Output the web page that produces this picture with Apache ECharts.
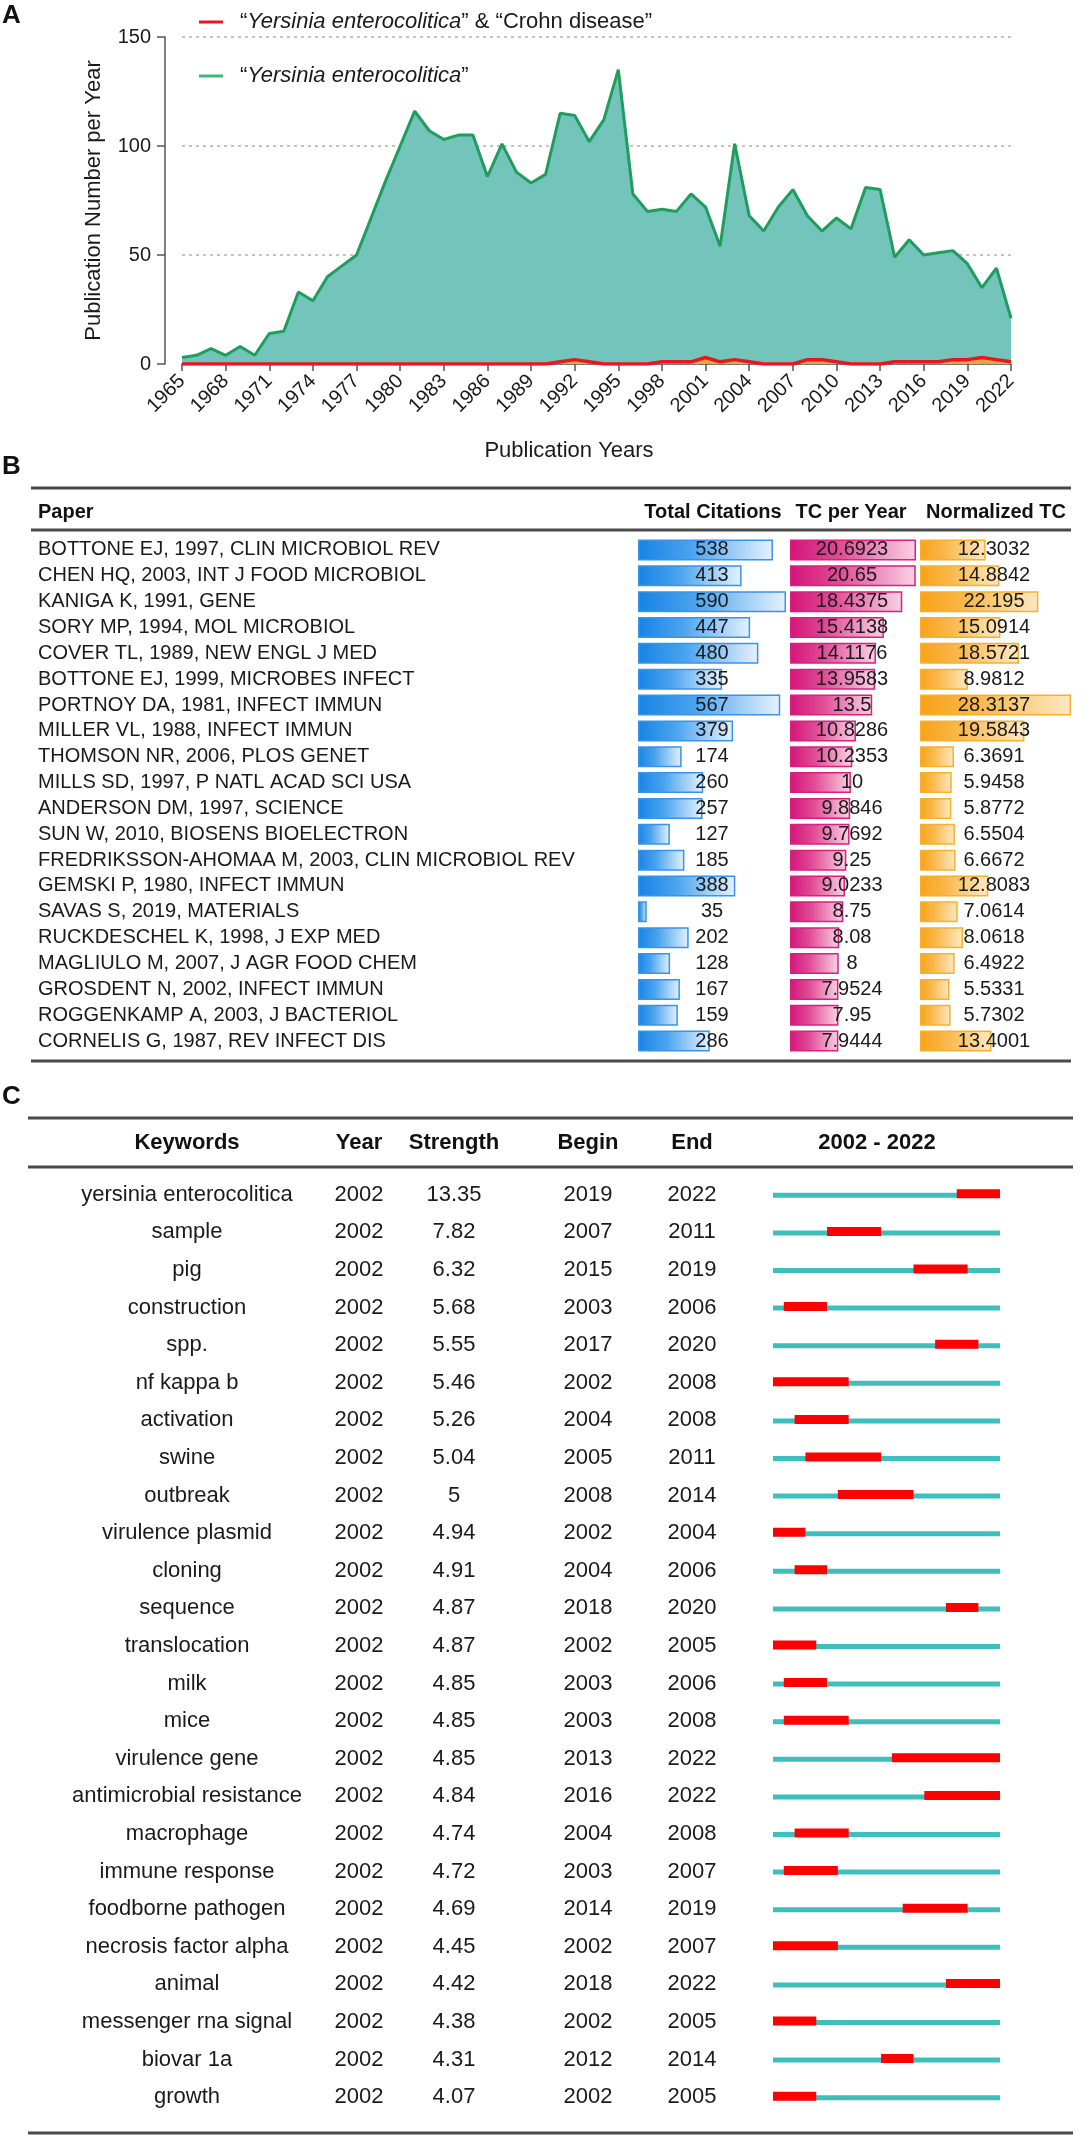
<!DOCTYPE html>
<html><head><meta charset="utf-8">
<script src="https://cdn.jsdelivr.net/npm/echarts@6/dist/echarts.min.js"></script>
<style>html,body{margin:0;padding:0;background:#fff}#c{width:1087px;height:2143px}</style>
</head><body><div id="c"></div>
<script>
// ---------- Panel A data ----------
const years = ['1965','1966','1967','1968','1969','1970','1971','1972','1973','1974','1975','1976','1977','1978','1979','1980','1981','1982','1983','1984','1985','1986','1987','1988','1989','1990','1991','1992','1993','1994','1995','1996','1997','1998','1999','2000','2001','2002','2003','2004','2005','2006','2007','2008','2009','2010','2011','2012','2013','2014','2015','2016','2017','2018','2019','2020','2021','2022'];
const yeCounts = [3,4,7,4,8,4,14,15,33,29,40,45,50,67,84,100,116,107,103,105,105,86,101,88,83,87,115,114,102,112,135,78,70,71,70,78,72,54,101,68,61,72,80,68,61,67,62,81,80,49,57,50,51,52,46,35,44,21];
const crohnCounts = [0,0,0,0,0,0,0,0,0,0,0,0,0,0,0,0,0,0,0,0,0,0,0,0,0,0,1,2,1,0,0,0,0,1,1,1,3,1,2,1,0,0,0,2,2,1,0,0,0,1,1,1,1,2,2,3,2,1];
const yTicks = [0, 50, 100, 150];

// ---------- Panel B data ----------
const papers = ['BOTTONE EJ, 1997, CLIN MICROBIOL REV','CHEN HQ, 2003, INT J FOOD MICROBIOL','KANIGA K, 1991, GENE','SORY MP, 1994, MOL MICROBIOL','COVER TL, 1989, NEW ENGL J MED','BOTTONE EJ, 1999, MICROBES INFECT','PORTNOY DA, 1981, INFECT IMMUN','MILLER VL, 1988, INFECT IMMUN','THOMSON NR, 2006, PLOS GENET','MILLS SD, 1997, P NATL ACAD SCI USA','ANDERSON DM, 1997, SCIENCE','SUN W, 2010, BIOSENS BIOELECTRON','FREDRIKSSON-AHOMAA M, 2003, CLIN MICROBIOL REV','GEMSKI P, 1980, INFECT IMMUN','SAVAS S, 2019, MATERIALS','RUCKDESCHEL K, 1998, J EXP MED','MAGLIULO M, 2007, J AGR FOOD CHEM','GROSDENT N, 2002, INFECT IMMUN','ROGGENKAMP A, 2003, J BACTERIOL','CORNELIS G, 1987, REV INFECT DIS'];
const totalCitations = [538,413,590,447,480,335,567,379,174,260,257,127,185,388,35,202,128,167,159,286];
const tcPerYear = [20.6923,20.65,18.4375,15.4138,14.1176,13.9583,13.5,10.8286,10.2353,10,9.8846,9.7692,9.25,9.0233,8.75,8.08,8,7.9524,7.95,7.9444];
const normalizedTC = [12.3032,14.8842,22.195,15.0914,18.5721,8.9812,28.3137,19.5843,6.3691,5.9458,5.8772,6.5504,6.6672,12.8083,7.0614,8.0618,6.4922,5.5331,5.7302,13.4001];

// ---------- Panel C data ----------
const keywords = ['yersinia enterocolitica','sample','pig','construction','spp.','nf kappa b','activation','swine','outbreak','virulence plasmid','cloning','sequence','translocation','milk','mice','virulence gene','antimicrobial resistance','macrophage','immune response','foodborne pathogen','necrosis factor alpha','animal','messenger rna signal','biovar 1a','growth'];
const kwYear = [2002,2002,2002,2002,2002,2002,2002,2002,2002,2002,2002,2002,2002,2002,2002,2002,2002,2002,2002,2002,2002,2002,2002,2002,2002];
const strength = ['13.35','7.82','6.32','5.68','5.55','5.46','5.26','5.04','5','4.94','4.91','4.87','4.87','4.85','4.85','4.85','4.84','4.74','4.72','4.69','4.45','4.42','4.38','4.31','4.07'];
const burstBegin = [2019,2007,2015,2003,2017,2002,2004,2005,2008,2002,2004,2018,2002,2003,2003,2013,2016,2004,2003,2014,2002,2018,2002,2012,2002];
const burstEnd = [2022,2011,2019,2006,2020,2008,2008,2011,2014,2004,2006,2020,2005,2006,2008,2022,2022,2008,2007,2019,2007,2022,2005,2014,2005];
const spanStart = 2002, spanEnd = 2022;

const FF = '"Liberation Sans", Arial, Helvetica, sans-serif';
const chart = echarts.init(document.getElementById('c'), null, {renderer: 'canvas'});

function grad(c0, c1, c2) {
  return new echarts.graphic.LinearGradient(0, 0, 1, 0, [
    {offset: 0, color: c0}, {offset: 0.4, color: c1}, {offset: 1, color: c2}]);
}
function fmtNum(v) { return String(v); }

const S_CROHN = 'crohn', S_YE = 'ye';

const headerTexts = [
  {t: 'A', x: 2, y: 16, font: 'bold 26px ' + FF, align: 'left'},
  {t: 'B', x: 2, y: 467, font: 'bold 26px ' + FF, align: 'left'},
  {t: 'C', x: 2, y: 1097, font: 'bold 26px ' + FF, align: 'left'},
  {t: 'Paper', x: 38, y: 512, font: 'bold 20px ' + FF, align: 'left'},
  {t: 'Total Citations', x: 713, y: 512, font: 'bold 20px ' + FF, align: 'center'},
  {t: 'TC per Year', x: 851, y: 512, font: 'bold 20px ' + FF, align: 'center'},
  {t: 'Normalized TC', x: 996, y: 512, font: 'bold 20px ' + FF, align: 'center'},
  {t: 'Keywords', x: 187, y: 1143, font: 'bold 22px ' + FF, align: 'center'},
  {t: 'Year', x: 359, y: 1143, font: 'bold 22px ' + FF, align: 'center'},
  {t: 'Strength', x: 454, y: 1143, font: 'bold 22px ' + FF, align: 'center'},
  {t: 'Begin', x: 588, y: 1143, font: 'bold 22px ' + FF, align: 'center'},
  {t: 'End', x: 692, y: 1143, font: 'bold 22px ' + FF, align: 'center'},
  {t: spanStart + ' - ' + spanEnd, x: 877, y: 1143, font: 'bold 22px ' + FF, align: 'center'}
];
const ruleLines = [
  {x1: 31, x2: 1071, y: 488}, {x1: 31, x2: 1071, y: 530}, {x1: 31, x2: 1071, y: 1061},
  {x1: 28, x2: 1073, y: 1118}, {x1: 28, x2: 1073, y: 1167}, {x1: 28, x2: 1073, y: 2133}
];
const graphics = [];
headerTexts.forEach(h => graphics.push({type: 'text', style: {text: h.t, x: h.x, y: h.y, font: h.font, fill: '#111', textAlign: h.align, textVerticalAlign: 'middle'}}));
ruleLines.forEach(l => graphics.push({type: 'line', shape: {x1: l.x1, y1: l.y, x2: l.x2, y2: l.y}, style: {stroke: '#4a4a4a', lineWidth: 3}}));

const rowsB = {top: 537, height: 517};
const bSpec = [
  {left: 638, width: 148, data: totalCitations, off: 74, c: grad('#1683e6', '#4ba4ef', '#e6f2fd'), b: '#3a93e6'},
  {left: 790, width: 126, data: tcPerYear, off: 62, c: grad('#d4147a', '#e04d96', '#f9d3e5'), b: '#d91f80'},
  {left: 920, width: 151, data: normalizedTC, off: 74, c: grad('#f8a218', '#fab94e', '#fde9c4'), b: '#f7b02e'}
];

const grids = [{left: 182, top: 37, width: 829, height: 327}];
const xAxes = [{
  gridIndex: 0, type: 'category', data: years, boundaryGap: false,
  axisLine: {lineStyle: {color: '#555', width: 1.5}},
  axisTick: {interval: 2, length: 7, lineStyle: {color: '#555', width: 1.5}},
  axisLabel: {interval: 2, rotate: 45, fontSize: 20, color: '#1a1a1a', fontFamily: FF, margin: 14},
  name: 'Publication Years', nameLocation: 'middle', nameGap: 76,
  nameTextStyle: {fontSize: 22, color: '#1a1a1a', fontFamily: FF, padding: [0, 55, 0, 0]}
}];
const yAxes = [{
  gridIndex: 0, type: 'value', min: yTicks[0], max: yTicks[yTicks.length - 1], interval: yTicks[1] - yTicks[0], offset: 17,
  axisLine: {show: true, lineStyle: {color: '#555', width: 1.5}},
  axisTick: {show: true, length: 8, lineStyle: {color: '#555', width: 1.5}},
  axisLabel: {fontSize: 20, color: '#1a1a1a', fontFamily: FF, margin: 14},
  splitLine: {show: true, lineStyle: {color: '#c4c4c4', width: 2, type: [3, 4]}},
  name: 'Publication Number per Year', nameLocation: 'middle', nameGap: 60,
  nameTextStyle: {fontSize: 22, color: '#1a1a1a', fontFamily: FF}
}];
const series = [
  {name: S_YE, type: 'line', xAxisIndex: 0, yAxisIndex: 0, data: yeCounts, showSymbol: false, symbol: 'none',
   lineStyle: {color: '#1f9d5c', width: 3}, itemStyle: {color: '#1f9d5c'},
   areaStyle: {color: '#73c4bb', opacity: 1}, z: 2},
  {name: S_CROHN, type: 'line', xAxisIndex: 0, yAxisIndex: 0, data: crohnCounts, showSymbol: false, symbol: 'none',
   lineStyle: {color: '#ea1520', width: 3.5}, itemStyle: {color: '#ea1520'},
   areaStyle: {color: '#f2a23c', opacity: 1}, z: 3}
];

bSpec.forEach((s, k) => {
  const gi = grids.length;
  grids.push({left: s.left, width: s.width, top: rowsB.top, height: rowsB.height});
  xAxes.push({gridIndex: gi, type: 'value', min: 0, max: Math.max(...s.data), show: false});
  yAxes.push({gridIndex: gi, type: 'category', data: papers, inverse: true,
    axisLine: {show: false}, axisTick: {show: false}, splitLine: {show: false},
    axisLabel: k === 0 ? {show: true, interval: 0, align: 'left', margin: s.left - 38, fontSize: 20, color: '#1a1a1a', fontFamily: FF} : {show: false}});
  series.push({type: 'bar', xAxisIndex: gi, yAxisIndex: gi, data: s.data, barWidth: 21,
    itemStyle: {color: s.c, borderColor: s.b, borderWidth: 1.5},
    label: {show: true, position: [s.off, '50%'], align: 'center', verticalAlign: 'middle',
      fontSize: 20, color: '#1a1a1a', fontFamily: FF, formatter: p => fmtNum(p.value)},
    silent: true, z: 2});
});

// panel C
const gC = grids.length;
grids.push({left: 773, width: 227, top: 1176, height: 940});
xAxes.push({gridIndex: gC, type: 'value', min: spanStart, max: spanEnd + 1, show: false});
const richStyle = {fontSize: 22, color: '#1a1a1a', fontFamily: FF, align: 'center'};
yAxes.push({gridIndex: gC, type: 'category', data: keywords, inverse: true,
  axisLine: {show: false}, axisTick: {show: false}, splitLine: {show: false},
  axisLabel: {show: true, interval: 0, margin: 41, align: 'right',
    formatter: (v, i) => `{k|${v}}{y|${kwYear[i]}}{s|${strength[i]}}{b|${burstBegin[i]}}{e|${burstEnd[i]}}`,
    rich: {
      k: Object.assign({width: 294}, richStyle),
      y: Object.assign({width: 50}, richStyle),
      s: Object.assign({width: 140}, richStyle),
      b: Object.assign({width: 128}, richStyle),
      e: Object.assign({width: 80}, richStyle)
    }}});
series.push({type: 'custom', xAxisIndex: gC, yAxisIndex: gC,
  data: keywords.map((k, i) => [burstBegin[i], i, burstEnd[i]]),
  encode: {x: [0, 2], y: 1},
  renderItem: (params, api) => {
    const b = api.value(0), i = api.value(1), e = api.value(2);
    const p0 = api.coord([spanStart, i]), p1 = api.coord([spanEnd + 1, i]);
    const r0 = api.coord([b, i]), r1 = api.coord([e + 1, i]);
    const cy = p0[1];
    return {type: 'group', children: [
      {type: 'rect', shape: {x: p0[0], y: cy - 2, width: p1[0] - p0[0], height: 5}, style: {fill: '#3cbfbd'}},
      {type: 'rect', shape: {x: r0[0], y: cy - 5.5, width: r1[0] - r0[0], height: 9}, style: {fill: '#ff0000'}}
    ]};
  }, silent: true});

chart.setOption({
  animation: false,
  textStyle: {fontFamily: FF},
  legend: {
    orient: 'vertical', left: 194, top: 6, itemWidth: 24, itemHeight: 3, itemGap: 32, icon: 'rect',
    data: [{name: S_CROHN, itemStyle: {color: '#ea1520'}}, {name: S_YE, itemStyle: {color: '#3cb878'}}],
    selectedMode: false,
    formatter: n => n === S_CROHN ? '{n|“}{i|Yersinia enterocolitica}{n|” & “Crohn disease”}' : '{n|“}{i|Yersinia enterocolitica}{n|”}',
    textStyle: {fontSize: 22, color: '#1a1a1a', fontFamily: FF, padding: [0, 0, 0, 12],
      rich: {n: {fontSize: 22, color: '#1a1a1a', fontFamily: FF}, i: {fontSize: 22, fontStyle: 'italic', color: '#1a1a1a', fontFamily: FF}}}
  },
  grid: grids, xAxis: xAxes, yAxis: yAxes, series: series, graphic: graphics
});
</script></body></html>
